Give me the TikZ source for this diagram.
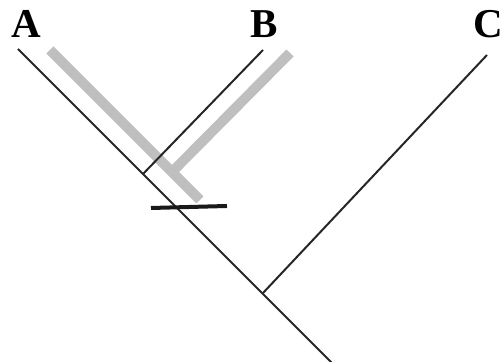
\documentclass[tikz,border=0pt]{standalone}
\usepackage{fontspec}
\setmainfont{Liberation Serif}
\usetikzlibrary{positioning}

\begin{document}
\begin{tikzpicture}[
  x=0.5pt, y=-0.5pt,
  taxon/.style={font=\fontsize{20.5}{20.5}\selectfont\bfseries, inner sep=0pt},
  branch/.style={draw=black!85, line width=1pt},
  gene/.style={draw=gray!50, line width=5pt},
  event/.style={draw=black!90, line width=2pt}
]
\useasboundingbox (0,0) rectangle (504,362);
\clip (0,0) rectangle (504,362);
% species tree tips and joins
\coordinate (tipA) at (18,49);
\coordinate (tipB) at (263,50);
\coordinate (tipC) at (487,55);
\coordinate (joinB) at (143,174);
\coordinate (joinC) at (263,293);
\coordinate (root) at (333,364);
% gene tree (grey)
\coordinate (gA) at (50,50);
\coordinate (gB) at (290,53);
\coordinate (gJoin) at (172,172);
\coordinate (gEnd) at (200,200);
\coordinate (barL) at (151,208);
\coordinate (barR) at (227,206);
\node[taxon] (A) at (26,24) {A};
\node[taxon] (B) at (264,24) {B};
\node[taxon] (C) at (488,24) {C};
\draw[gene] (gA) -- (gEnd);
\draw[gene] (gB) -- (gJoin);
\draw[branch] (tipA) -- (root);
\draw[branch] (tipB) -- (joinB);
\draw[branch] (tipC) -- (joinC);
\draw[event] (barL) -- (barR);
\end{tikzpicture}
\end{document}
